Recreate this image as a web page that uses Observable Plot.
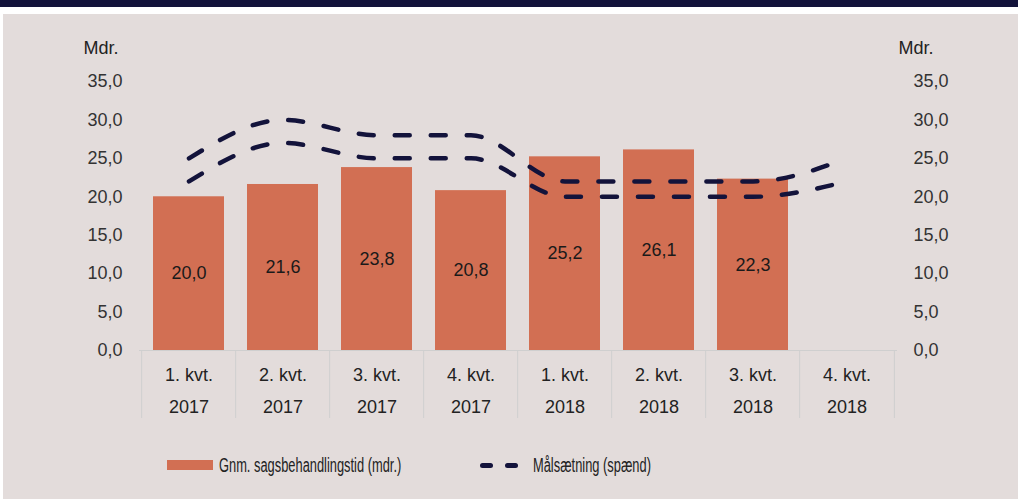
<!DOCTYPE html>
<html><head><meta charset="utf-8">
<script src="https://cdn.jsdelivr.net/npm/d3@7"></script>
<script src="https://cdn.jsdelivr.net/npm/@observablehq/plot@0.6"></script>
<style>
body{margin:0;background:#fff;width:1018px;height:499px;overflow:hidden;font-family:"Liberation Sans",Arial,sans-serif;}
#top{height:7px;background:#13133b;}
#gap{height:7px;}
#panel{position:relative;margin-left:3px;width:1015px;height:485px;background:#e3dcdb;}
#chart svg{display:block;}
.lg{position:absolute;}
.txt{font-size:20px;line-height:24px;white-space:nowrap;color:#222;transform:scaleX(0.643);transform-origin:0 50%;}
</style></head><body>
<div id="top"></div><div id="gap"></div>
<div id="panel"><div id="chart"></div>
<div class="lg" style="left:164px;top:446px;width:46px;height:10px;background:#d26f53"></div>
<div class="lg txt" style="left:216px;top:439px;">Gnm. sagsbehandlingstid (mdr.)</div>
<div class="lg" style="left:477px;top:448.5px;width:13px;height:5px;border-radius:2.5px;background:#13133b"></div>
<div class="lg" style="left:502px;top:448.5px;width:13px;height:5px;border-radius:2.5px;background:#13133b"></div>
<div class="lg txt" style="left:530px;top:439px;">Målsætning (spænd)</div>
</div>
<script>
const quarters = ["1. kvt.","2. kvt.","3. kvt.","4. kvt.","1. kvt.","2. kvt.","3. kvt.","4. kvt."];
const years = ["2017","2017","2017","2017","2018","2018","2018","2018"];
const barValues = [20.0, 21.6, 23.8, 20.8, 25.2, 26.1, 22.3];
const targetUpper = [25, 30, 28, 28, 22, 22, 22, 25];
const targetLower = [22, 27, 25, 25, 20, 20, 20, 22];
const yTicks = [0, 5, 10, 15, 20, 25, 30, 35];

const categories = quarters.map((q, i) => q + "\n" + years[i]);
const W = 1015, H = 425, mL = 136, mR = 121, mT = 67, mB = 89;
const step = (W - mL - mR) / categories.length;
const fmt = d => d.toFixed(1).replace(".", ",");
const bars = barValues.map((v, i) => ({cat: categories[i], v}));
const lines = [
  ...targetUpper.map((v, i) => ({cat: categories[i], v, s: "upper"})),
  ...targetLower.map((v, i) => ({cat: categories[i], v, s: "lower"}))
];
const gridC = "#cfcfcf";
const plot = Plot.plot({
  width: W, height: H, marginLeft: mL, marginRight: mR, marginTop: mT, marginBottom: mB,
  style: {background: "transparent", fontFamily: "Liberation Sans, Arial, sans-serif", fontSize: "18px", color: "#333"},
  x: {domain: categories, paddingInner: 0.24, paddingOuter: 0.12},
  y: {domain: [0, 35]},
  marks: [
    Plot.ruleX(categories, {x: d => d, dx: -step / 2, stroke: gridC, insetTop: H - mT - mB, insetBottom: -68}),
    Plot.ruleX([categories[categories.length - 1]], {x: d => d, dx: step / 2, stroke: gridC, insetTop: H - mT - mB, insetBottom: -68}),
    Plot.ruleY([0], {stroke: gridC}),
    Plot.barY(bars, {x: "cat", y: "v", fill: "#d26f53"}),
    Plot.text(bars, {x: "cat", y: d => d.v / 2, text: d => fmt(d.v), fill: "#1a1a1a", fontSize: 18}),
    Plot.line(lines, {x: "cat", y: "v", z: "s", stroke: "#13133b", strokeWidth: 4.5, strokeDasharray: "15,21", strokeLinecap: "round", curve: "monotone-x"}),
    Plot.axisY({anchor: "left", ticks: yTicks, tickFormat: fmt, tickSize: 0, tickPadding: 17, label: null, fontSize: 18, fill: "#333"}),
    Plot.axisY({anchor: "right", ticks: yTicks, tickFormat: fmt, tickSize: 0, tickPadding: 16, label: null, fontSize: 18, fill: "#333"}),
    Plot.axisX({tickSize: 0, tickPadding: 7.5, label: null, lineHeight: 1.8, fontSize: 18, fill: "#222"}),
    Plot.text(["Mdr."], {frameAnchor: "top-left", dx: -56, dy: -40, textAnchor: "start", fill: "#222", fontSize: 18}),
    Plot.text(["Mdr."], {frameAnchor: "top-right", dx: 1, dy: -40, textAnchor: "start", fill: "#222", fontSize: 18})
  ]
});
document.getElementById("chart").appendChild(plot);
</script>
</body></html>
